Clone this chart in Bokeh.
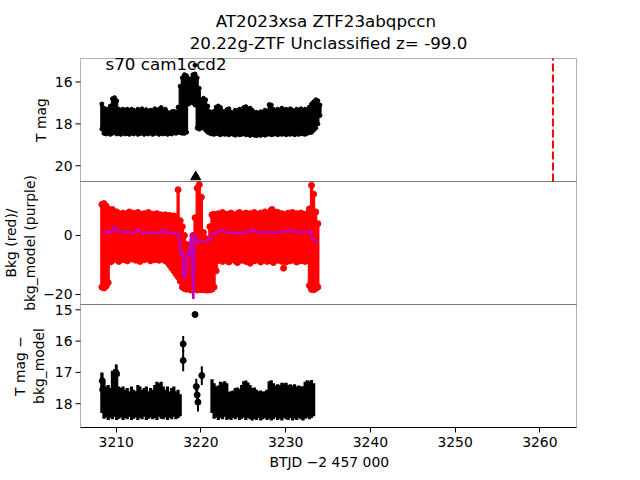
import numpy as np
from bokeh.plotting import figure
from bokeh.models import Range1d, FixedTicker, Label, BoxAnnotation, Title
from bokeh.core.properties import value
from bokeh.embed import file_html
from bokeh.resources import INLINE

nan = float("nan")

# ---------------- data ----------------
title_line1 = "AT2023xsa  ZTF23abqpccn"
title_line2 = "20.22g-ZTF Unclassified z= -99.0"
sector_text = "s70 cam1ccd2"
x_label = "BTJD \u22122 457 000"
event_btjd = 3261.55          # red dashed line (discovery epoch)
marker_btjd = 3219.38         # black triangle
marker_mag = 20.53

# sample times (BTJD - 2457000)
t_grid = [
    3208.30, 3208.55, 3208.80, 3209.05, 3209.30, 3209.55, 3209.80, 3210.05, 3210.30, 3210.55,
    3210.80, 3211.05, 3211.30, 3211.55, 3211.80, 3212.05, 3212.30, 3212.55, 3212.80, 3213.05,
    3213.30, 3213.55, 3213.80, 3214.05, 3214.30, 3214.55, 3214.80, 3215.05, 3215.30, 3215.55,
    3215.80, 3216.05, 3216.30, 3216.55, 3216.80, 3217.05, 3217.30, 3217.55, 3217.80, 3218.05,
    3218.30, 3218.55, 3218.80, 3219.05, 3219.30, 3219.55, 3219.80, 3220.05, 3220.30, 3220.55,
    3220.80, 3221.05, 3221.30, 3221.55, 3221.80, 3222.05, 3222.30, 3222.55, 3222.80, 3223.05,
    3223.30, 3223.55, 3223.80, 3224.05, 3224.30, 3224.55, 3224.80, 3225.05, 3225.30, 3225.55,
    3225.80, 3226.05, 3226.30, 3226.55, 3226.80, 3227.05, 3227.30, 3227.55, 3227.80, 3228.05,
    3228.30, 3228.55, 3228.80, 3229.05, 3229.30, 3229.55, 3229.80, 3230.05, 3230.30, 3230.55,
    3230.80, 3231.05, 3231.30, 3231.55, 3231.80, 3232.05, 3232.30, 3232.55, 3232.80, 3233.05,
    3233.30, 3233.55, 3233.80, 3234.05]

# top panel: bright / faint envelope of T mag points
tmag_bright = [
    17.05, 17.25, 17.30, 17.30, 17.15, 16.80, 16.75, 16.90, 17.30, 17.40,
    17.30, 17.40, 17.30, 17.42, 17.30, 17.35, 17.45, 17.30, 17.40, 17.28,
    17.40, 17.32, 17.45, 17.35, 17.40, 17.28, 17.45, 17.30, 17.22, 17.38,
    17.30, 17.45, 17.50, 17.42, 17.40, 17.45, 17.20, 16.20, 15.80, 15.65,
    15.70, 15.85, 15.85, 15.65, 15.62, 15.80, 16.30, 16.85, 16.78, 16.85,
    17.15, 17.42, 17.48, 17.40, 17.20, 17.15, 17.22, 17.40, 17.45, 17.32,
    17.28, 17.45, 17.48, 17.35, 17.45, 17.30, 17.40, 17.22, 17.18, 17.30,
    17.25, 17.35, 17.48, 17.45, 17.50, 17.42, 17.48, 17.35, 17.40, 17.08,
    17.10, 17.30, 17.42, 17.30, 17.38, 17.25, 17.40, 17.30, 17.42, 17.28,
    17.35, 17.45, 17.30, 17.40, 17.28, 17.40, 17.30, 17.35, 17.20, 17.05,
    16.95, 16.85, 16.90, 17.10]
tmag_faint = [
    18.25, 18.45, 18.48, 18.42, 18.50, 18.45, 18.40, 18.48, 18.45, 18.50,
    18.42, 18.48, 18.45, 18.50, 18.44, 18.48, 18.42, 18.50, 18.46, 18.44,
    18.50, 18.45, 18.48, 18.42, 18.50, 18.46, 18.44, 18.50, 18.45, 18.48,
    18.44, 18.50, 18.46, 18.48, 18.42, 18.45, 18.40, 18.42, 18.45, 18.45,
    18.40, 17.05, 16.95, 17.00, 17.10, 18.20, 18.25, 18.20, 18.15, 18.30,
    18.40, 18.45, 18.48, 18.50, 18.45, 18.48, 18.52, 18.46, 18.50, 18.48,
    18.52, 18.46, 18.50, 18.54, 18.48, 18.52, 18.50, 18.46, 18.52, 18.50,
    18.55, 18.50, 18.54, 18.56, 18.52, 18.55, 18.50, 18.54, 18.50, 18.48,
    18.52, 18.50, 18.46, 18.52, 18.48, 18.50, 18.46, 18.52, 18.48, 18.50,
    18.46, 18.52, 18.48, 18.50, 18.45, 18.48, 18.50, 18.45, 18.42, 18.40,
    18.30, 18.20, 18.00, 17.60]
tmag_extra_t = [3219.30]
tmag_extra_m = [15.20]

# middle panel: background flux (red) envelope
bkg_low = [
    -17.5, -17.8, -17.2, -16.0, -9.0, -8.5, -7.5, -8.0, -8.8, -7.6,
    -8.2, -7.4, -8.6, -7.8, -8.0, -7.2, -8.4, -7.6, -8.8, -7.8,
    -8.2, -7.4, -8.0, -8.6, -7.6, -8.2, -7.8, -8.4, -7.6, -8.0,
    -8.6, -9.0, -10.0, -11.0, -12.0, -13.0, -14.0, -15.5, -17.5, -18.0,
    -18.2, -18.0, -18.5, -17.5, -18.0, -18.5, -18.3, -18.4, -18.3, -18.5,
    -18.5, -18.4, -18.2, -17.5, -12.0, -8.5, -8.0, -8.8, -7.6, -8.4,
    -9.0, -8.2, -7.8, -8.6, -9.2, -8.0, -8.4, -7.6, -8.8, -8.2,
    -9.4, -8.0, -8.6, -7.8, -8.4, -9.0, -8.2, -7.6, -8.8, -8.0,
    -8.6, -9.2, -8.0, -8.4, -7.8, -8.8, -8.2, -9.0, -8.0, -8.6,
    -7.8, -8.4, -9.0, -8.2, -8.6, -8.0, -8.8, -8.4, -17.0, -18.3,
    -18.4, -18.0, -17.5, nan]
bkg_high = [
    10.5, 10.8, 10.0, 9.0, 7.5, 8.8, 7.0, 8.0, 7.2, 6.8,
    7.6, 6.6, 7.4, 8.0, 7.0, 7.5, 6.8, 7.8, 7.2, 6.6,
    7.4, 7.0, 7.8, 6.8, 7.2, 6.6, 7.4, 6.8, 7.0, 6.4,
    7.0, 6.6, 6.8, 6.4, 6.6, 6.0, 15.5, 5.0, 3.0, 0.0,
    -3.0, -6.0, -4.0, 0.0, 6.0, 16.0, 17.2, 13.0, 1.0, -1.0,
    -1.5, 3.0, 7.0, 7.2, 6.8, 7.4, 6.6, 7.8, 7.0, 7.2,
    6.6, 7.6, 7.0, 6.4, 7.4, 7.8, 6.8, 7.2, 7.6, 6.6,
    7.4, 7.0, 7.8, 6.8, 7.2, 7.6, 6.6, 8.0, 7.0, 7.4,
    8.6, 7.2, 7.0, 7.8, 6.8, 7.4, 7.0, 6.6, 7.6, 7.2,
    7.8, 7.0, 7.4, 6.8, 7.6, 7.2, 7.0, 7.4, 9.0, 17.0,
    14.0, 8.0, 4.0, nan]
bkg_out_t = [3229.75, 3228.40, 3228.90]
bkg_out_v = [-11.1, 8.8, 7.9]

# middle panel: background model (purple)
model_t = [
    3208.30, 3208.55, 3208.80, 3209.05, 3209.30, 3209.55, 3209.75, 3210.00, 3210.30, 3210.60,
    3211.00, 3211.40, 3211.80, 3212.20, 3212.60, 3212.90, 3213.30, 3213.70, 3214.10, 3214.50,
    3214.90, 3215.30, 3215.60, 3215.90, 3216.30, 3216.70, 3217.00, 3217.30, 3217.50, 3217.65,
    3217.80, 3217.95, 3218.15, 3218.30, 3218.60, 3218.85, 3218.95, 3219.10, 3219.25, 3219.50,
    3219.80, 3220.10, 3220.50, 3220.90, 3221.10, 3221.50, 3222.00, 3222.50, 3222.90, 3223.30,
    3223.70, 3224.10, 3224.50, 3224.90, 3225.30, 3225.70, 3226.00, 3226.40, 3226.80, 3227.20,
    3227.60, 3228.00, 3228.40, 3228.80, 3229.20, 3229.60, 3230.00, 3230.60, 3231.00, 3231.40,
    3231.80, 3232.20, 3232.60, 3232.90, 3233.10, 3233.40, 3233.75]
model_v = [
    0.4, 0.8, 1.2, 1.4, 1.2, 1.6, 3.2, 1.8, 1.2, 1.4,
    1.0, 1.2, 0.8, 1.1, 2.2, 1.0, 0.9, 1.1, 0.8, 1.0,
    0.7, 0.9, 2.1, 0.9, 0.8, 0.9, 0.7, 0.6, -2.0, -7.0,
    -5.0, -13.8, -14.6, -6.2, -7.0, 0.6, -10.0, -21.5, 0.6, -2.0,
    -2.3, -2.0, -1.6, -1.8, -0.9, 0.8, 1.2, 1.9, 1.0, 1.2,
    0.8, 1.0, 0.6, 1.1, 1.0, 1.4, 2.2, 1.2, 0.9, 1.1,
    1.0, 1.3, 0.9, 1.1, 1.0, 1.2, 1.3, 2.0, 1.1, 1.2,
    1.0, 1.3, 1.2, 1.4, -0.5, -1.8, -2.0]

# bottom panel: T mag - bkg_model, error-bar envelope
corr_bright = [
    17.00, 17.30, 17.45, 17.40, 17.50, 16.95, 16.90, 17.00, 17.45, 17.50,
    17.45, 17.55, 17.50, 17.60, 17.45, 17.55, 17.60, 17.40, 17.45, 17.55,
    17.50, 17.45, 17.60, 17.50, 17.55, 17.40, 17.30, 17.35, 17.30, 17.45,
    17.55, 17.45, 17.60, 17.50, 17.45, 17.60, 17.55, 17.70, nan, nan,
    nan, nan, nan, nan, nan, nan, nan, nan, nan, nan,
    nan, nan, 17.22, 17.35, 17.44, 17.42, 17.30, 17.32, 17.28, 17.35,
    17.62, 17.60, 17.58, 17.50, 17.48, 17.52, 17.40, 17.28, 17.26, 17.32,
    17.40, 17.50, 17.48, 17.55, 17.60, 17.58, 17.62, 17.60, 17.55, 17.28,
    17.25, 17.35, 17.42, 17.38, 17.40, 17.33, 17.35, 17.33, 17.40, 17.38,
    17.42, 17.38, 17.45, 17.42, 17.45, 17.44, 17.30, 17.25, 17.28, 17.24,
    17.35, nan, nan, nan]
corr_faint = [
    18.30, 18.48, 18.44, 18.52, 18.46, 18.50, 18.42, 18.52, 18.48, 18.44,
    18.52, 18.46, 18.50, 18.42, 18.52, 18.48, 18.44, 18.52, 18.46, 18.50,
    18.42, 18.52, 18.48, 18.44, 18.50, 18.46, 18.52, 18.42, 18.48, 18.50,
    18.44, 18.52, 18.46, 18.50, 18.42, 18.50, 18.46, 18.40, nan, nan,
    nan, nan, nan, nan, nan, nan, nan, nan, nan, nan,
    nan, nan, 18.30, 18.48, 18.44, 18.52, 18.46, 18.50, 18.42, 18.52,
    18.48, 18.52, 18.46, 18.50, 18.44, 18.52, 18.48, 18.44, 18.52, 18.46,
    18.50, 18.54, 18.48, 18.52, 18.46, 18.54, 18.50, 18.46, 18.52, 18.48,
    18.54, 18.50, 18.44, 18.52, 18.48, 18.54, 18.46, 18.50, 18.52, 18.46,
    18.54, 18.48, 18.52, 18.46, 18.50, 18.54, 18.48, 18.44, 18.50, 18.46,
    18.40, nan, nan, nan]
corr_pts_t = [3208.35, 3208.40, 3209.95, 3210.05, 3217.90, 3217.90, 3219.30,
              3219.45, 3219.55, 3219.65, 3220.10]
corr_pts_m = [17.27, 17.55, 17.00, 17.05, 16.09, 16.62, 15.15,
              17.45, 17.72, 17.95, 17.10]
corr_pts_e = [0.25, 0.30, 0.25, 0.30, 0.25, 0.34, 0.05,
              0.25, 0.30, 0.30, 0.30]

x_ticks = [3210, 3220, 3230, 3240, 3250, 3260]
top_ticks = [16, 18, 20]
mid_ticks = [-20, 0]
bot_ticks = [15, 16, 17, 18]

# panel limits: (value at panel bottom, value at panel top, slot from top)
top_lim = (20.75, 14.88, 0)
mid_lim = (-23.4, 18.3, 1)
bot_lim = (18.76, 14.83, 2)
x_lim = (3205.78, 3264.33)

# ---------------- layout geometry (pixels) ----------------
W, H = 640, 480
BOX_L, BOX_R, BOX_T, BOX_B = 80, 576, 58, 427     # the drawn axes box
FR_R, FR_T = 584, 0                               # plotting frame (larger than the box)
PANEL = (BOX_B - BOX_T) / 3.0
TITLE1_Y, TITLE2_Y = 20, 42                       # title line centres (px from top)
XLABEL_LEFT = 269                                 # left edge of the x-axis title

FONT = "DejaVu Sans"
TICK = "13.9px"
BIG = "16.7px"

kx = (BOX_R - BOX_L) / (x_lim[1] - x_lim[0])          # px per BTJD day
x_frame = (x_lim[0] - BOX_L / kx, x_lim[1] + (FR_R - BOX_R) / kx)
tick_len = 5 / kx


def frame_range(lim):
    b, t, s = lim
    d = (t - b) / PANEL                      # value per pixel
    top_px = s * PANEL + (BOX_T - FR_T)       # pixels from frame top to panel top
    bot_px = (2 - s) * PANEL                  # pixels from panel bottom to frame bottom
    return Range1d(start=b - bot_px * d, end=t + top_px * d)


def fmt(v):
    return str(v).replace("-", "\u2212")


p = figure(width=W, height=H, x_range=Range1d(*x_frame), y_range=frame_range(top_lim),
           output_backend="svg", toolbar_location=None, title=None,
           y_axis_location=None,
           min_border_left=0, min_border_right=W - FR_R, min_border_top=FR_T,
           min_border_bottom=H - BOX_B)
p.extra_y_ranges = {"mid": frame_range(mid_lim), "bot": frame_range(bot_lim)}
names = {0: "default", 1: "mid", 2: "bot"}

p.xgrid.visible = False
p.ygrid.visible = False
p.outline_line_color = None
p.background_fill_color = "white"
p.border_fill_color = "white"

# titles (two lines, centred over the box)
x_mid = (x_lim[0] + x_lim[1]) / 2
for txt, ypx in ((title_line1, TITLE1_Y), (title_line2, TITLE2_Y)):
    p.add_layout(Label(x=x_mid, y=top_lim[1], y_offset=BOX_T - ypx, text=txt,
                       text_align="center", text_baseline="middle", text_font=FONT,
                       text_font_size=BIG, text_color="black"))

# x axis (bounded to the box)
ax = p.xaxis[0]
ax.bounds = x_lim
ax.ticker = FixedTicker(ticks=x_ticks)
ax.major_tick_in = 0
ax.major_tick_out = 5
ax.minor_tick_line_color = None
ax.axis_line_color = "black"
ax.major_tick_line_color = "black"
ax.major_label_text_color = "black"
ax.major_label_text_font = FONT
ax.major_label_text_font_size = TICK
ax.major_label_standoff = 4
p.add_layout(Title(text=x_label, align="left", offset=XLABEL_LEFT, text_font=FONT,
                   text_color="black", text_font_size=TICK, text_font_style="normal",
                   standoff=4), "below")

# panel boxes, y ticks, tick labels, y-axis titles
ylabels = {0: ("T mag", -40), 1: ("Bkg (red)/\nbkg_model (purple)", -60),
           2: ("T mag \u2212\nbkg_model", -51)}
for lim, ticks in ((top_lim, top_ticks), (mid_lim, mid_ticks), (bot_lim, bot_ticks)):
    b, t, s = lim
    rn = names[s]
    p.add_layout(BoxAnnotation(left=x_lim[0], right=x_lim[1], bottom=b, top=t,
                               fill_color=None, line_color="black", line_width=1,
                               y_range_name=rn))
    n = len(ticks)
    p.segment(x0=[x_lim[0] - tick_len] * n, x1=[x_lim[0]] * n, y0=ticks, y1=ticks,
              line_color="black", line_width=1, y_range_name=rn)
    p.text(x=[x_lim[0]] * n, y=ticks, text=[fmt(v) for v in ticks], x_offset=-8,
           text_align="right", text_baseline="middle", text_color="black",
           text_font=value(FONT), text_font_size=value(TICK), y_range_name=rn)
    txt, off = ylabels[s]
    p.add_layout(Label(x=x_lim[0], y=(b + t) / 2, x_offset=off, angle=90,
                       angle_units="deg", text=txt, text_align="center",
                       text_baseline="middle", text_font=FONT, text_font_size=TICK,
                       text_color="black", y_range_name=rn))

# --- top panel
p.vbar(x=t_grid, top=tmag_bright, bottom=tmag_faint, width=0.26, color="black")
p.scatter(t_grid, tmag_bright, size=4, color="black")
p.scatter(t_grid, tmag_faint, size=4, color="black")
p.scatter(tmag_extra_t, tmag_extra_m, size=4, color="black")
p.scatter([marker_btjd], [marker_mag], marker="triangle", size=10, color="black")
p.segment(x0=[event_btjd], y0=[top_lim[0]], x1=[event_btjd], y1=[top_lim[1]],
          line_color="red", line_dash="8 3", line_width=2)
p.add_layout(Label(x=x_lim[0], y=15.12, x_offset=25, text=sector_text,
                   text_baseline="middle", text_font=FONT, text_font_size=BIG,
                   text_color="black"))

# --- middle panel
p.vbar(x=t_grid, top=bkg_high, bottom=bkg_low, width=0.26, color="red", y_range_name="mid")
p.scatter(t_grid, bkg_high, size=6, color="red", y_range_name="mid")
p.scatter(t_grid, bkg_low, size=6, color="red", y_range_name="mid")
p.scatter(bkg_out_t, bkg_out_v, size=6, color="red", y_range_name="mid")
p.line(model_t, model_v, color="#bf00bf", line_width=2.5, y_range_name="mid")

# --- bottom panel
p.segment(x0=t_grid, y0=corr_bright, x1=t_grid, y1=corr_faint, color="black",
          line_width=3.2, y_range_name="bot")
pm = np.array(corr_pts_m)
pe = np.array(corr_pts_e)
p.segment(x0=corr_pts_t, y0=pm - pe, x1=corr_pts_t, y1=pm + pe, color="black",
          line_width=2, y_range_name="bot")
p.scatter(corr_pts_t, corr_pts_m, size=6, color="black", y_range_name="bot")

open("out.html", "w").write(file_html(p, INLINE))
